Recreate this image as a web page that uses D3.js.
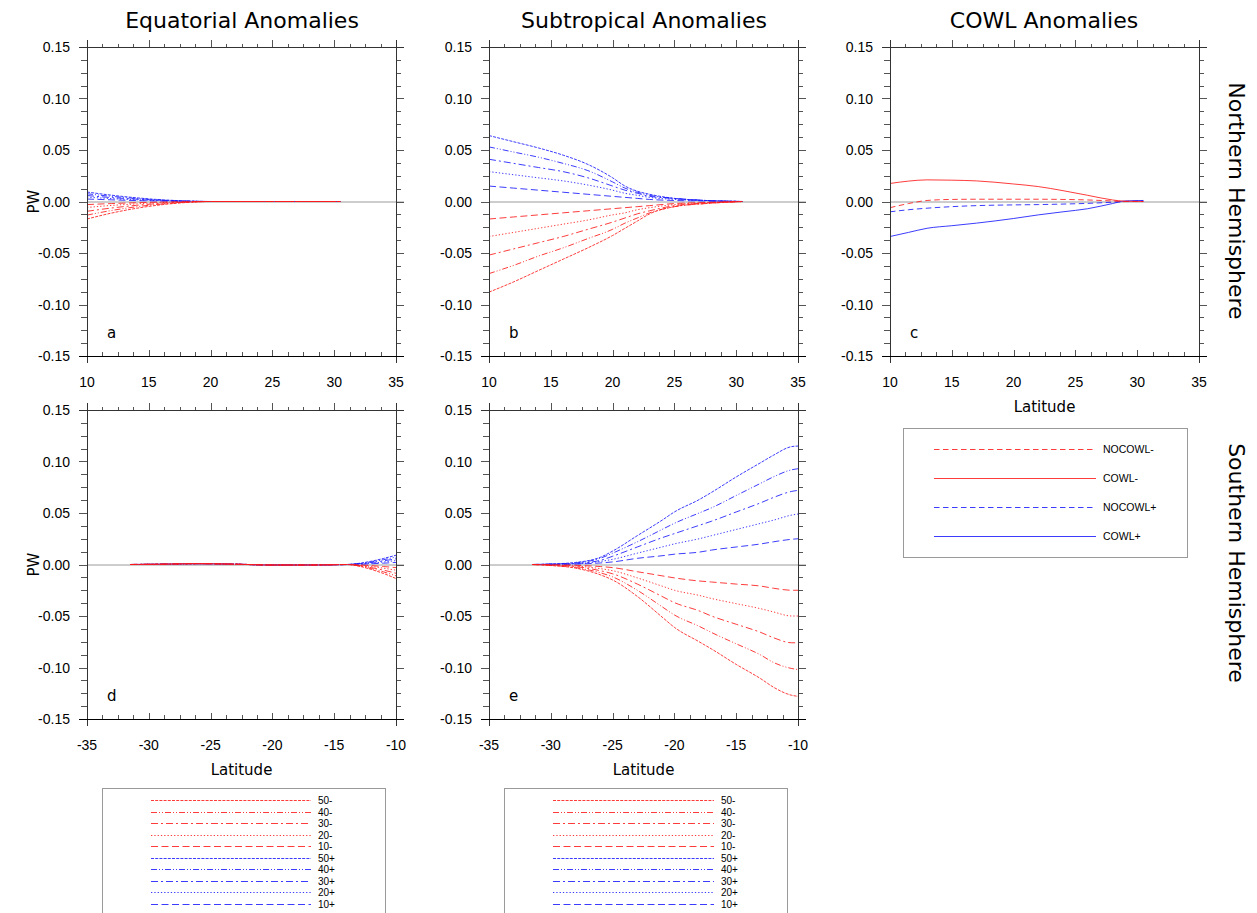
<!DOCTYPE html>
<html lang="en">
<head>
<meta charset="UTF-8">
<title>PW anomalies</title>
<script src="https://d3js.org/d3.v7.min.js"></script>
<style>
  body { margin: 0; background: #fff; }
  svg text { fill: #000; }
</style>
</head>
<body>
<div id="chart"></div>
<script>
// ---- data ----
const seriesKeys = ["50-", "40-", "30-", "20-", "10-", "50+", "40+", "30+", "20+", "10+"];
const cowlKeys = ["NOCOWL-", "COWL-", "NOCOWL+", "COWL+"];

const yTicks = [-0.15, -0.10, -0.05, 0.00, 0.05, 0.10, 0.15];
const xTicksNH = [10, 15, 20, 25, 30, 35];
const xTicksSH = [-35, -30, -25, -20, -15, -10];

// a: equatorial anomalies, northern hemisphere
const latA = [10, 12, 14, 16, 18, 20, 25, 30.5];
const eqNH = {
  "50+": [0.0092, 0.0061, 0.0036, 0.0017, 0.0006, 0, 0, 0],
  "40+": [0.0075, 0.0050, 0.0029, 0.0014, 0.0005, 0, 0, 0],
  "30+": [0.0058, 0.0038, 0.0023, 0.0011, 0.0003, 0, 0, 0],
  "20+": [0.0042, 0.0028, 0.0016, 0.0008, 0.0002, 0, 0, 0],
  "10+": [0.0024, 0.0016, 0.0009, 0.0005, 0.0001, 0, 0, 0],
  "10-": [-0.0030, -0.0020, -0.0012, -0.0006, -0.0002, 0, 0, 0],
  "20-": [-0.0058, -0.0038, -0.0023, -0.0011, -0.0003, 0, 0, 0],
  "30-": [-0.0095, -0.0063, -0.0037, -0.0018, -0.0006, 0, 0, 0],
  "40-": [-0.0132, -0.0087, -0.0051, -0.0025, -0.0008, 0, 0, 0],
  "50-": [-0.0170, -0.0112, -0.0066, -0.0032, -0.0010, 0, 0, 0]
};

// b: subtropical anomalies, northern hemisphere
const latB = [10, 12, 14, 16, 18, 20, 21, 22, 23, 25, 27.5, 30.5];
const stNH = {
  "50+": [0.064, 0.058, 0.052, 0.045, 0.036, 0.023, 0.015, 0.010, 0.007, 0.003, 0.001, 0],
  "40+": [0.053, 0.048, 0.043, 0.037, 0.030, 0.019, 0.013, 0.009, 0.006, 0.003, 0.001, 0],
  "30+": [0.041, 0.037, 0.033, 0.029, 0.023, 0.015, 0.011, 0.008, 0.005, 0.003, 0.001, 0],
  "20+": [0.029, 0.026, 0.023, 0.020, 0.016, 0.011, 0.008, 0.006, 0.004, 0.002, 0.001, 0],
  "10+": [0.015, 0.013, 0.011, 0.009, 0.007, 0.005, 0.004, 0.003, 0.002, 0.001, 0.0005, 0],
  "10-": [-0.017, -0.015, -0.013, -0.011, -0.009, -0.007, -0.006, -0.005, -0.004, -0.002, -0.001, 0],
  "20-": [-0.034, -0.030, -0.026, -0.022, -0.018, -0.013, -0.011, -0.008, -0.006, -0.003, -0.001, 0],
  "30-": [-0.052, -0.046, -0.040, -0.034, -0.027, -0.020, -0.016, -0.012, -0.009, -0.004, -0.0015, 0],
  "40-": [-0.070, -0.062, -0.053, -0.045, -0.036, -0.027, -0.021, -0.016, -0.011, -0.005, -0.002, 0],
  "50-": [-0.088, -0.078, -0.067, -0.056, -0.045, -0.033, -0.026, -0.019, -0.012, -0.005, -0.002, 0]
};

// c: COWL anomalies, northern hemisphere
const latC = [10, 11.5, 13, 15, 17, 20, 22, 24, 26, 28, 29, 30.5];
const cowlNH = {
  "COWL-":   [0.0175, 0.0198, 0.021, 0.0207, 0.020, 0.017, 0.0145, 0.0105, 0.006, 0.0015, 0.0003, 0],
  "NOCOWL-": [-0.006, -0.002, 0.001, 0.002, 0.0022, 0.0022, 0.0022, 0.002, 0.0015, 0.0005, 0, 0],
  "NOCOWL+": [-0.010, -0.008, -0.0065, -0.005, -0.004, -0.0033, -0.003, -0.0025, -0.0018, -0.0007, 0, 0.0005],
  "COWL+":   [-0.034, -0.030, -0.026, -0.0235, -0.021, -0.0165, -0.013, -0.010, -0.007, -0.002, 0.0005, 0.001]
};

// d: equatorial anomalies, southern hemisphere
const latD = [-31.5, -29, -26, -23, -20, -17, -15, -14, -13, -12, -11, -10];
const eqSH = {
  "50+": [0, 0.0003, 0.0008, 0.0003, -0.0005, -0.0005, -0.0002, 0, 0.0011, 0.0032, 0.0059, 0.0090],
  "40+": [0, 0.0003, 0.0008, 0.0003, -0.0005, -0.0005, -0.0002, 0, 0.0009, 0.0025, 0.0047, 0.0072],
  "30+": [0, 0.0003, 0.0008, 0.0003, -0.0005, -0.0005, -0.0002, 0, 0.0007, 0.0019, 0.0036, 0.0055],
  "20+": [0, 0.0003, 0.0008, 0.0003, -0.0005, -0.0005, -0.0002, 0, 0.0005, 0.0013, 0.0025, 0.0038],
  "10+": [0, 0.0003, 0.0008, 0.0003, -0.0005, -0.0005, -0.0002, 0, 0.0002, 0.0007, 0.0013, 0.0020],
  "10-": [0, 0.0003, 0.0008, 0.0003, -0.0005, -0.0005, -0.0002, 0, -0.0004, -0.0011, -0.0020, -0.0030],
  "20-": [0, 0.0003, 0.0008, 0.0003, -0.0005, -0.0005, -0.0002, 0, -0.0007, -0.0019, -0.0036, -0.0055],
  "30-": [0, 0.0003, 0.0008, 0.0003, -0.0005, -0.0005, -0.0002, 0, -0.0010, -0.0030, -0.0055, -0.0085],
  "40-": [0, 0.0003, 0.0008, 0.0003, -0.0005, -0.0005, -0.0002, 0, -0.0013, -0.0039, -0.0072, -0.0110],
  "50-": [0, 0.0003, 0.0008, 0.0003, -0.0005, -0.0005, -0.0002, 0, -0.0016, -0.0048, -0.0088, -0.0136]
};

// e: subtropical anomalies, southern hemisphere
const latE = [-31.5, -30, -28, -26, -25, -23, -21, -20, -18, -17, -15, -13, -12, -10.5, -10];
const stSH = {
  "50+": [0, 0.0005, 0.002, 0.007, 0.013, 0.028, 0.043, 0.051, 0.063, 0.070, 0.085, 0.099, 0.106, 0.1145, 0.115],
  "40+": [0, 0.0004, 0.0015, 0.006, 0.011, 0.022, 0.034, 0.040, 0.050, 0.055, 0.067, 0.079, 0.085, 0.092, 0.093],
  "30+": [0, 0.0003, 0.001, 0.004, 0.008, 0.017, 0.026, 0.030, 0.038, 0.042, 0.051, 0.060, 0.065, 0.071, 0.072],
  "20+": [0, 0.0002, 0.0007, 0.003, 0.005, 0.011, 0.017, 0.020, 0.025, 0.028, 0.034, 0.040, 0.043, 0.048, 0.049],
  "10+": [0, 0.0001, 0.0004, 0.0015, 0.0025, 0.006, 0.0085, 0.010, 0.012, 0.014, 0.017, 0.020, 0.022, 0.0245, 0.025],
  "10-": [0, -0.0002, -0.0008, -0.002, -0.003, -0.007, -0.011, -0.013, -0.016, -0.017, -0.019, -0.021, -0.023, -0.025, -0.025],
  "20-": [0, -0.0004, -0.0015, -0.004, -0.006, -0.013, -0.021, -0.025, -0.030, -0.033, -0.038, -0.043, -0.046, -0.050, -0.050],
  "30-": [0, -0.0006, -0.002, -0.006, -0.009, -0.019, -0.031, -0.037, -0.045, -0.050, -0.058, -0.066, -0.071, -0.076, -0.076],
  "40-": [0, -0.0008, -0.003, -0.008, -0.012, -0.025, -0.041, -0.049, -0.060, -0.066, -0.077, -0.088, -0.095, -0.101, -0.102],
  "50-": [0, -0.001, -0.0035, -0.010, -0.015, -0.031, -0.051, -0.061, -0.075, -0.082, -0.097, -0.111, -0.119, -0.127, -0.128]
};

// ---- styles ----
const dashFor = {
  "50": "3,1.2",
  "40": "6,2,1,2,1,2",
  "30": "7,3,2,3",
  "20": "1.3,2",
  "10": "7,3.5",
  "NOCOWL": "5.5,3.5",
  "COWL": null
};
const colorFor = k => k.endsWith("-") ? "#ff1a1a" : "#1a1aff";
const dashOf = k => dashFor[k.slice(0, -1)];

const svg = d3.select("#chart").append("svg")
  .attr("width", 1257).attr("height", 913)
  .style("font-family", "'DejaVu Sans', sans-serif");

const W = 309, H = 309;
const y = d3.scaleLinear().domain([-0.15, 0.15]).range([H, 0]);

const panels = [
  { left: 87,  top: 47,  lat: latA, data: eqNH,   keys: seriesKeys, xd: [10, 35],  ticks: xTicksNH, letter: "a", pw: true },
  { left: 489, top: 47,  lat: latB, data: stNH,   keys: seriesKeys, xd: [10, 35],  ticks: xTicksNH, letter: "b" },
  { left: 890, top: 47,  lat: latC, data: cowlNH, keys: cowlKeys,   xd: [10, 35],  ticks: xTicksNH, letter: "c", xlabel: true },
  { left: 87,  top: 410, lat: latD, data: eqSH,   keys: seriesKeys, xd: [-35, -10], ticks: xTicksSH, letter: "d", pw: true, xlabel: true },
  { left: 489, top: 410, lat: latE, data: stSH,   keys: seriesKeys, xd: [-35, -10], ticks: xTicksSH, letter: "e", xlabel: true }
];

function minorTicks(a, b, step) {
  const out = [];
  for (let v = a; v <= b + 1e-9; v += step) out.push(+v.toFixed(5));
  return out;
}

panels.forEach(p => {
  const x = d3.scaleLinear().domain(p.xd).range([0, W]);
  const g = svg.append("g").attr("transform", `translate(${p.left},${p.top})`);

  // zero line
  g.append("line").attr("x1", 0).attr("x2", W + 8)
    .attr("y1", y(0) + 0.5).attr("y2", y(0) + 0.5)
    .attr("stroke", "#9a9a9a").attr("stroke-width", 1);

  // series
  const line = d3.line().x(d => x(d[0])).y(d => y(d[1])).curve(d3.curveMonotoneX);
  p.keys.slice().reverse().forEach(k => {
    const pts = p.lat.map((la, i) => [la, p.data[k][i]]);
    g.append("path").attr("d", line(pts))
      .attr("fill", "none")
      .attr("stroke", colorFor(k))
      .attr("stroke-opacity", 0.85)
      .attr("stroke-width", 1)
      .attr("stroke-dasharray", dashOf(k));
  });

  // ticks
  const tk = g.append("g").attr("stroke", "#555").attr("stroke-width", 1).attr("shape-rendering", "crispEdges");
  const xMinor = minorTicks(p.xd[0], p.xd[1], 1.25);
  const yMinor = minorTicks(-0.15, 0.15, 0.0125);
  xMinor.forEach(v => {
    const major = p.ticks.some(t => Math.abs(t - v) < 1e-6);
    const px = Math.round(x(v)) + 0.5;
    tk.append("line").attr("x1", px).attr("x2", px).attr("y1", 0).attr("y2", major ? -7 : -3);
    tk.append("line").attr("x1", px).attr("x2", px).attr("y1", H).attr("y2", major ? H - 6 : H - 4);
  });
  yMinor.forEach(v => {
    const major = yTicks.some(t => Math.abs(t - v) < 1e-6);
    const py = Math.round(y(v)) + 0.5;
    tk.append("line").attr("x1", 0).attr("x2", major ? -8 : -6).attr("y1", py).attr("y2", py);
    tk.append("line").attr("x1", W).attr("x2", W + (major ? 8 : 5)).attr("y1", py).attr("y2", py);
  });
  // frame, with the side lines running a little past the bottom
  const fr = g.append("g").attr("stroke", "#333").attr("stroke-width", 1).attr("shape-rendering", "crispEdges");
  fr.append("line").attr("x1", 0.5).attr("x2", 0.5).attr("y1", -7).attr("y2", H + 7);
  fr.append("line").attr("x1", W + 0.5).attr("x2", W + 0.5).attr("y1", -7).attr("y2", H + 7);
  fr.append("line").attr("x1", -8).attr("x2", W + 8).attr("y1", 0.5).attr("y2", 0.5);
  fr.append("line").attr("x1", -8).attr("x2", W + 8).attr("y1", H + 0.5).attr("y2", H + 0.5).attr("stroke", "#000");

  // tick labels
  yTicks.forEach(t => {
    g.append("text").attr("x", -17).attr("y", y(t)).attr("dy", "0.36em")
      .attr("text-anchor", "end")
      .style("font-family", "'Liberation Sans', Arial, sans-serif").style("font-size", "14px")
      .text(t.toFixed(2));
  });
  p.ticks.forEach(t => {
    g.append("text").attr("x", x(t)).attr("y", H + 31)
      .attr("text-anchor", "middle")
      .style("font-family", "'Liberation Sans', Arial, sans-serif").style("font-size", "14px")
      .text(t);
  });

  g.append("text").attr("x", 20).attr("y", H - 18).style("font-size", "15px").text(p.letter);

  if (p.pw) {
    g.append("text").attr("transform", `translate(${-48},${H / 2}) rotate(-90)`)
      .attr("text-anchor", "middle").style("font-size", "15px").text("PW");
  }
  if (p.xlabel) {
    g.append("text").attr("x", W / 2).attr("y", H + 56)
      .attr("text-anchor", "middle").style("font-size", "15px").text("Latitude");
  }
});

// column titles and row labels
[["Equatorial Anomalies", 242], ["Subtropical Anomalies", 644], ["COWL Anomalies", 1044]].forEach(([t, cx]) => {
  svg.append("text").attr("x", cx).attr("y", 28).attr("text-anchor", "middle")
    .style("font-size", "22px").text(t);
});
[["Northern Hemisphere", 201], ["Southern Hemisphere", 563]].forEach(([t, cy]) => {
  svg.append("text").attr("transform", `translate(1229,${cy}) rotate(90)`)
    .attr("text-anchor", "middle").style("font-size", "22px").text(t);
});

// legends
function legend(bx, by, bw, bh, keys, lx1, lx2, tx, y0, step, fs) {
  svg.append("rect").attr("x", bx + 0.5).attr("y", by + 0.5).attr("width", bw).attr("height", bh)
    .attr("fill", "none").attr("stroke", "#9a9a9a").attr("stroke-width", 1);
  keys.forEach((k, i) => {
    const yy = Math.round(y0 + i * step) + 0.5;
    svg.append("line").attr("x1", lx1).attr("x2", lx2).attr("y1", yy).attr("y2", yy)
      .attr("stroke", colorFor(k)).attr("stroke-opacity", 0.85).attr("stroke-width", 1)
      .attr("stroke-dasharray", dashOf(k));
    svg.append("text").attr("x", tx).attr("y", yy).attr("dy", "0.36em")
      .style("font-family", "'Liberation Sans', Arial, sans-serif").style("font-size", fs + "px")
      .text(k);
  });
}
legend(102, 788, 283, 140, seriesKeys, 151, 311, 318, 800, 11.55, 10);
legend(504, 788, 283, 140, seriesKeys, 553, 714, 721, 800, 11.55, 10);
legend(903, 428, 284, 129, cowlKeys, 934, 1096, 1103, 449, 29, 10.5);
</script>
</body>
</html>
